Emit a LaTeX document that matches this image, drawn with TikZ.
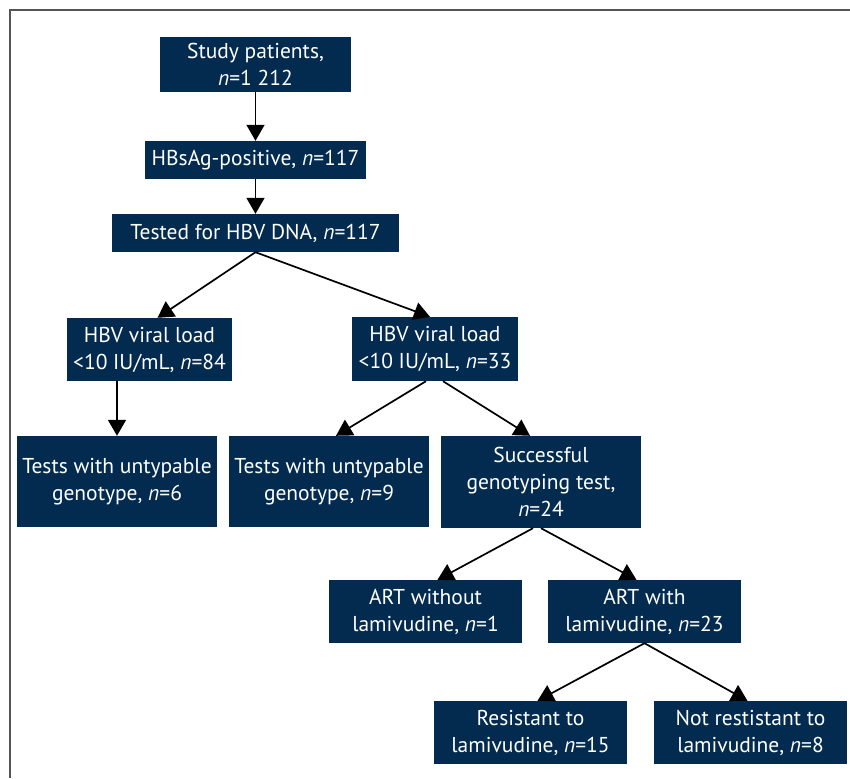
\documentclass[tikz,border=0pt]{standalone}
\usepackage{fontspec}
\setmainfont{PT Sans}
\usetikzlibrary{shapes,arrows.meta}
\definecolor{navyblue}{RGB}{2,43,79}
\definecolor{framegray}{RGB}{85,85,85}
\tikzstyle{block} = [rectangle, fill=navyblue, text=white, align=center,
    inner sep=0pt, font=\fontsize{21.5}{27}\selectfont]
\tikzstyle{line} = [draw, line width=1.7pt, -{Triangle[width=18pt,length=16pt]}]

\begin{document}
\begin{tikzpicture}[x=1pt, y=-1pt]
    \useasboundingbox (0,0) rectangle (850,778);
    \draw [framegray, line width=1.5pt] (10,778) -- (10,10) -- (850,10);
    % Place nodes
    \node [block, minimum width=191pt, minimum height=55pt] at (255.5,64.5) (study) {Study patients,\\\textit{n}=1 212};
    \node [block, minimum width=221pt, minimum height=38pt] at (255.5,160) (hbsag) {HBsAg-positive, \textit{n}=117};
    \node [block, minimum width=287pt, minimum height=38pt] at (255.5,233) (tested) {Tested for HBV DNA, \textit{n}=117};
    \node [block, minimum width=165pt, minimum height=63pt] at (149.5,349.5) (load84) {HBV viral load\\<10 IU/mL, \textit{n}=84};
    \node [block, minimum width=166pt, minimum height=64pt] at (435,349) (load33) {HBV viral load\\<10 IU/mL, \textit{n}=33};
    \node [block, minimum width=200pt, minimum height=91pt] at (117,481.5) (untyp6) {Tests with untypable\\genotype, \textit{n}=6};
    \node [block, minimum width=200pt, minimum height=91pt] at (329,481.5) (untyp9) {Tests with untypable\\genotype, \textit{n}=9};
    \node [block, minimum width=200pt, minimum height=92pt] at (541,482) (success) {Successful\\genotyping test,\\\textit{n}=24};
    \node [block, minimum width=193pt, minimum height=63pt] at (425.5,611.5) (artwo) {ART without\\lamivudine, \textit{n}=1};
    \node [block, minimum width=193pt, minimum height=63pt] at (644.5,611.5) (artw) {ART with\\lamivudine, \textit{n}=23};
    \node [block, minimum width=193pt, minimum height=63pt] at (530.5,732.5) (resist) {Resistant to\\lamivudine, \textit{n}=15};
    \node [block, minimum width=193pt, minimum height=63pt] at (750.5,732.5) (notres) {Not restistant to\\lamivudine, \textit{n}=8};
    % Draw edges
    \path [line] (study) -- (hbsag);
    \path [line] (hbsag) -- (tested);
    \path [line] (tested.south) -- ([xshift=8pt]load84.north);
    \path [line] (tested.south) -- ([xshift=-5pt]load33.north);
    \path [line] (untyp6.north |- load84.south) -- (untyp6.north);
    \path [line] ([xshift=-9pt]load33.south) -- ([xshift=7pt]untyp9.north);
    \path [line] ([xshift=8pt]load33.south) -- ([xshift=-11pt]success.north);
    \path [line] ([xshift=-8pt]success.south) -- ([xshift=12pt]artwo.north);
    \path [line] (success.south) -- ([xshift=-8pt]artw.north);
    \path [line] (artw.south) -- ([xshift=7pt]resist.north);
    \path [line] (artw.south) -- ([xshift=-3pt]notres.north);
\end{tikzpicture}
\end{document}
